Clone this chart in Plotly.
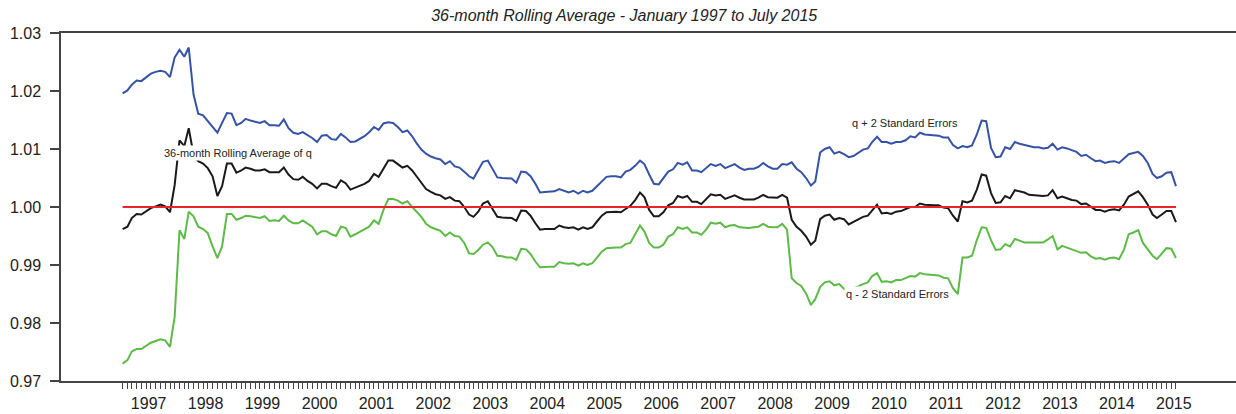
import pandas as pd
import plotly.graph_objects as go

# ---- data (monthly, Jan 1997 .. Jul 2015) ----
upper_2se = [
    1.0196, 1.0201, 1.0211, 1.0218, 1.0217, 1.0223, 1.0230, 1.0233, 1.0235, 1.0233, 1.0224, 1.0258,
    1.0271, 1.0259, 1.0275, 1.0194, 1.0161, 1.0158, 1.0148, 1.0138, 1.0128, 1.0145, 1.0162, 1.0161,
    1.0141, 1.0145, 1.0152, 1.0149, 1.0147, 1.0145, 1.0148, 1.0141, 1.0141, 1.0140, 1.0151, 1.0136,
    1.0128, 1.0126, 1.0129, 1.0124, 1.0119, 1.0112, 1.0123, 1.0124, 1.0117, 1.0116, 1.0126, 1.0120,
    1.0112, 1.0113, 1.0117, 1.0122, 1.0129, 1.0138, 1.0133, 1.0144, 1.0146, 1.0145, 1.0138, 1.0129,
    1.0132, 1.0122, 1.0110, 1.0099, 1.0092, 1.0087, 1.0084, 1.0082, 1.0074, 1.0079, 1.0070, 1.0068,
    1.0061, 1.0053, 1.0049, 1.0065, 1.0078, 1.0080, 1.0065, 1.0051, 1.0050, 1.0050, 1.0049, 1.0042,
    1.0061, 1.0060, 1.0053, 1.0040, 1.0025, 1.0026, 1.0026, 1.0027, 1.0031, 1.0028, 1.0025, 1.0028,
    1.0023, 1.0028, 1.0025, 1.0028, 1.0036, 1.0045, 1.0052, 1.0053, 1.0053, 1.0051, 1.0061, 1.0064,
    1.0071, 1.0080, 1.0074, 1.0056, 1.0040, 1.0039, 1.0050, 1.0061, 1.0065, 1.0076, 1.0073, 1.0077,
    1.0063, 1.0063, 1.0060, 1.0067, 1.0074, 1.0071, 1.0074, 1.0067, 1.0070, 1.0074, 1.0068, 1.0064,
    1.0066, 1.0066, 1.0069, 1.0076, 1.0070, 1.0066, 1.0066, 1.0074, 1.0073, 1.0077, 1.0066, 1.0060,
    1.0050, 1.0037, 1.0044, 1.0094, 1.0100, 1.0103, 1.0092, 1.0095, 1.0091, 1.0086, 1.0088, 1.0094,
    1.0099, 1.0101, 1.0112, 1.0121, 1.0112, 1.0112, 1.0109, 1.0112, 1.0112, 1.0115, 1.0122, 1.0120,
    1.0128, 1.0125, 1.0124, 1.0124, 1.0123, 1.0120, 1.0120, 1.0107, 1.0101, 1.0105, 1.0103, 1.0106,
    1.0125, 1.0149, 1.0148, 1.0102, 1.0086, 1.0087, 1.0103, 1.0100, 1.0112, 1.0109, 1.0107, 1.0105,
    1.0103, 1.0103, 1.0101, 1.0102, 1.0109, 1.0099, 1.0103, 1.0101, 1.0098, 1.0095, 1.0088, 1.0090,
    1.0084, 1.0079, 1.0080, 1.0076, 1.0078, 1.0079, 1.0076, 1.0083, 1.0091, 1.0093, 1.0095, 1.0088,
    1.0076, 1.0057, 1.0050, 1.0053, 1.0059, 1.0060, 1.0036,
]

q_rolling = [
    0.9962, 0.9966, 0.9981, 0.9988, 0.9987, 0.9992, 0.9998, 1.0001, 1.0004, 1.0001, 0.9991, 1.0038,
    1.0115, 1.0105, 1.0136, 1.0090, 1.0079, 1.0075, 1.0067, 1.0053, 1.0019, 1.0036, 1.0075, 1.0075,
    1.0059, 1.0063, 1.0068, 1.0066, 1.0063, 1.0063, 1.0065, 1.0060, 1.0060, 1.0060, 1.0068, 1.0056,
    1.0048, 1.0047, 1.0052, 1.0045, 1.0040, 1.0032, 1.0040, 1.0040, 1.0036, 1.0033, 1.0046, 1.0041,
    1.0030, 1.0033, 1.0036, 1.0040, 1.0045, 1.0057, 1.0052, 1.0067, 1.0080, 1.0080, 1.0074, 1.0068,
    1.0071, 1.0063, 1.0053, 1.0041, 1.0031, 1.0026, 1.0022, 1.0020, 1.0014, 1.0017, 1.0011, 1.0010,
    1.0000, 0.9987, 0.9983, 0.9992, 1.0006, 1.0010, 0.9997, 0.9983, 0.9982, 0.9981, 0.9981, 0.9976,
    0.9994, 0.9993, 0.9985, 0.9972, 0.9961, 0.9962, 0.9962, 0.9962, 0.9968, 0.9965, 0.9964, 0.9965,
    0.9961, 0.9965, 0.9962, 0.9965, 0.9975, 0.9985, 0.9991, 0.9992, 0.9992, 0.9991, 0.9997, 1.0002,
    1.0012, 1.0025, 1.0017, 0.9995, 0.9984, 0.9984, 0.9991, 1.0003, 1.0007, 1.0019, 1.0016, 1.0019,
    1.0009, 1.0009, 1.0005, 1.0013, 1.0022, 1.0020, 1.0021, 1.0014, 1.0017, 1.0020, 1.0016, 1.0013,
    1.0013, 1.0013, 1.0016, 1.0021, 1.0017, 1.0016, 1.0016, 1.0021, 1.0016, 0.9978, 0.9966, 0.9959,
    0.9949, 0.9935, 0.9942, 0.9979, 0.9985, 0.9987, 0.9978, 0.9981, 0.9979, 0.9970, 0.9974, 0.9978,
    0.9983, 0.9985, 0.9995, 1.0004, 0.9989, 0.9990, 0.9988, 0.9992, 0.9993, 0.9996, 1.0000, 1.0000,
    1.0006, 1.0004, 1.0003, 1.0003, 1.0003, 0.9999, 0.9998, 0.9985, 0.9975, 1.0010, 1.0008, 1.0011,
    1.0030, 1.0056, 1.0054, 1.0024, 1.0007, 1.0008, 1.0019, 1.0015, 1.0029, 1.0027, 1.0025, 1.0021,
    1.0020, 1.0020, 1.0019, 1.0020, 1.0029, 1.0015, 1.0018, 1.0015, 1.0012, 1.0011, 1.0005, 1.0006,
    1.0000, 0.9995, 0.9995, 0.9992, 0.9995, 0.9996, 0.9994, 1.0004, 1.0018, 1.0023, 1.0027, 1.0017,
    1.0004, 0.9987, 0.9981, 0.9987, 0.9993, 0.9993, 0.9974,
]

lower_2se = [
    0.9730, 0.9736, 0.9751, 0.9755, 0.9755, 0.9760, 0.9766, 0.9769, 0.9772, 0.9770, 0.9759, 0.9811,
    0.9960, 0.9945, 0.9992, 0.9984, 0.9966, 0.9962, 0.9955, 0.9932, 0.9912, 0.9932, 0.9988, 0.9988,
    0.9978, 0.9981, 0.9985, 0.9984, 0.9983, 0.9981, 0.9984, 0.9976, 0.9977, 0.9976, 0.9985, 0.9977,
    0.9972, 0.9972, 0.9977, 0.9971, 0.9966, 0.9953, 0.9958, 0.9958, 0.9953, 0.9950, 0.9966, 0.9964,
    0.9949, 0.9953, 0.9957, 0.9961, 0.9966, 0.9977, 0.9971, 0.9995, 1.0014, 1.0014, 1.0011, 1.0006,
    1.0010, 1.0000, 0.9992, 0.9983, 0.9971, 0.9965, 0.9962, 0.9959, 0.9950, 0.9956, 0.9950, 0.9949,
    0.9938, 0.9920, 0.9919, 0.9926, 0.9935, 0.9939, 0.9931, 0.9916, 0.9915, 0.9913, 0.9913, 0.9909,
    0.9928, 0.9927, 0.9919, 0.9906, 0.9896, 0.9897, 0.9897, 0.9897, 0.9905, 0.9903, 0.9902, 0.9903,
    0.9899, 0.9903, 0.9900, 0.9903, 0.9912, 0.9923, 0.9929, 0.9930, 0.9930, 0.9930, 0.9936, 0.9938,
    0.9952, 0.9968, 0.9958, 0.9938, 0.9930, 0.9930, 0.9935, 0.9949, 0.9953, 0.9965, 0.9962, 0.9965,
    0.9956, 0.9956, 0.9952, 0.9961, 0.9973, 0.9971, 0.9973, 0.9965, 0.9968, 0.9969, 0.9965, 0.9964,
    0.9964, 0.9965, 0.9966, 0.9971, 0.9966, 0.9965, 0.9965, 0.9971, 0.9961, 0.9877, 0.9869, 0.9864,
    0.9851, 0.9831, 0.9841, 0.9862, 0.9870, 0.9872, 0.9865, 0.9867, 0.9859, 0.9856, 0.9859, 0.9863,
    0.9867, 0.9870, 0.9881, 0.9886, 0.9871, 0.9872, 0.9870, 0.9874, 0.9874, 0.9877, 0.9881, 0.9880,
    0.9886, 0.9884, 0.9883, 0.9883, 0.9882, 0.9878, 0.9877, 0.9860, 0.9850, 0.9913, 0.9913, 0.9916,
    0.9943, 0.9965, 0.9964, 0.9943, 0.9926, 0.9927, 0.9936, 0.9932, 0.9945, 0.9942, 0.9939, 0.9939,
    0.9939, 0.9938, 0.9939, 0.9944, 0.9950, 0.9927, 0.9933, 0.9930, 0.9927, 0.9924, 0.9921, 0.9922,
    0.9915, 0.9911, 0.9912, 0.9909, 0.9912, 0.9913, 0.9910, 0.9926, 0.9953, 0.9956, 0.9960, 0.9938,
    0.9927, 0.9916, 0.9910, 0.9920, 0.9929, 0.9928, 0.9912,
]

reference_level = 1.0
year_labels = ["1997", "1998", "1999", "2000", "2001", "2002", "2003", "2004", "2005", "2006",
               "2007", "2008", "2009", "2010", "2011", "2012", "2013", "2014", "2015"]
y_ticks = [0.97, 0.98, 0.99, 1.00, 1.01, 1.02, 1.03]

months = pd.date_range("1997-01-01", periods=len(q_rolling), freq="MS")
year_starts = [m for m in months if m.month == 1]
label_pos = [f"{y}-06-17" for y in year_labels]

AXIS = "#444444"
TXT = "#222222"
FONT = "Liberation Sans, Arial, sans-serif"

fig = go.Figure()
fig.add_trace(go.Scatter(x=months, y=upper_2se, mode="lines",
                         line=dict(color="#3553a6", width=2), name="q + 2 Standard Errors"))
fig.add_trace(go.Scatter(x=months, y=lower_2se, mode="lines",
                         line=dict(color="#5dba47", width=2), name="q - 2 Standard Errors"))
fig.add_trace(go.Scatter(x=months, y=q_rolling, mode="lines",
                         line=dict(color="#1a1a1a", width=2), name="36-month Rolling Average of q"))
fig.add_trace(go.Scatter(x=[months[0], months[-1]], y=[reference_level, reference_level], mode="lines",
                         line=dict(color="#e8232a", width=2), name="1.00"))

xrange = ["1995-12-03", "2016-07-20"]

fig.update_layout(
    width=1236, height=414,
    margin=dict(l=61, r=0, t=33, b=33),
    paper_bgcolor="white", plot_bgcolor="white",
    showlegend=False,
    title=dict(text="<i>36-month Rolling Average - January 1997 to July 2015</i>",
               x=0.505, xref="container", xanchor="center",
               y=1 - 15.5 / 414, yref="container", yanchor="middle",
               font=dict(family=FONT, size=16, color=TXT)),
    xaxis=dict(
        type="date", range=xrange, automargin=False,
        tickmode="array", tickvals=year_starts, ticktext=[""] * len(year_starts),
        ticks="outside", ticklen=11, tickwidth=1.5, tickcolor=AXIS,
        minor=dict(tickmode="array", tickvals=list(months), ticks="outside",
                   ticklen=6, tickwidth=1, tickcolor=AXIS, showgrid=False),
        showline=True, linecolor=AXIS, linewidth=1.5, mirror=True,
        showgrid=False, zeroline=False,
    ),
    xaxis2=dict(
        type="date", range=xrange, overlaying="x", anchor="y", side="bottom", automargin=False,
        tickmode="array", tickvals=label_pos, ticktext=year_labels,
        ticks="outside", ticklen=8, tickcolor="rgba(0,0,0,0)",
        showline=False, showgrid=False, zeroline=False,
        tickfont=dict(family=FONT, size=16, color=TXT),
    ),
    yaxis=dict(
        range=[0.97, 1.03], tickmode="array", tickvals=y_ticks, tickformat=".2f", automargin=False,
        ticks="outside", ticklen=9, tickwidth=1.5, tickcolor=AXIS,
        showline=True, linecolor=AXIS, linewidth=1.5, ticklabelstandoff=6,
        showgrid=False, zeroline=False,
        tickfont=dict(family=FONT, size=16, color=TXT),
    ),
)

# invisible trace so that the label axis (xaxis2) is rendered
fig.add_trace(go.Scatter(x=[months[0]], y=[reference_level], xaxis="x2", mode="markers",
                         marker=dict(opacity=0), hoverinfo="skip", showlegend=False))

ann_font = dict(family=FONT, size=11, color=TXT)
fig.add_annotation(text="36-month Rolling Average of q", xref="paper", yref="paper",
                   x=(238 - 61) / 1175, y=(381 - 153.3) / 348, xanchor="center", yanchor="middle",
                   showarrow=False, bgcolor="white", font=ann_font, borderpad=1)
fig.add_annotation(text="q + 2 Standard Errors", xref="paper", yref="paper",
                   x=(905.3 - 61) / 1175, y=(381 - 123.3) / 348, xanchor="center", yanchor="middle",
                   showarrow=False, bgcolor="white", font=ann_font, borderpad=1)
fig.add_annotation(text="q - 2 Standard Errors", xref="paper", yref="paper",
                   x=(897 - 61) / 1175, y=(381 - 293.8) / 348, xanchor="center", yanchor="middle",
                   showarrow=False, bgcolor="white", font=ann_font, borderpad=1)

fig.write_html("out.html", config={"displayModeBar": False},
               post_script="document.body.style.margin='0';document.body.style.overflow='hidden';")
